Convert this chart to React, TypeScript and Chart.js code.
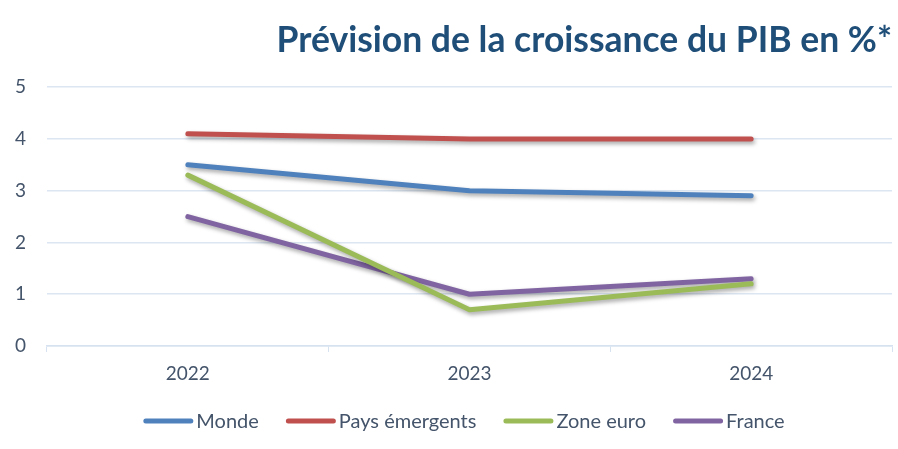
import React, { useEffect, useRef } from "react";
import { Chart, registerables } from "chart.js";

Chart.register(...registerables);

const categories = ["2022", "2023", "2024"];
const monde = [3.5, 3.0, 2.9];
const paysEmergents = [4.1, 4.0, 4.0];
const zoneEuro = [3.3, 0.7, 1.2];
const france = [2.5, 1.0, 1.3];
const seriesNames = ["Monde", "Pays émergents", "Zone euro", "France"];
const seriesColors = ["#4F81BD", "#C0504D", "#9BBB59", "#8064A2"];
const titleText = "Prévision de la croissance du PIB en %*";
const textColor = "#44546A";

const shadowPlugin = {
  id: "lineShadow",
  beforeDatasetDraw(chart: any) {
    const ctx = chart.ctx;
    ctx.save();
    ctx.shadowColor = "rgba(0,0,0,0.35)";
    ctx.shadowBlur = 4;
    ctx.shadowOffsetX = 1.5;
    ctx.shadowOffsetY = 2.5;
  },
  afterDatasetDraw(chart: any) {
    chart.ctx.restore();
  },
};

const legendPlugin = {
  id: "customLegend",
  afterDraw(chart: any) {
    const ctx = chart.ctx;
    const lineLen = 50;
    const gapText = 3;
    const gapItem = 27;
    const y = 421;
    const centerX = 464;
    ctx.save();
    ctx.font = "20px Lato";
    const items = chart.data.datasets.map((d: any) => ({
      label: d.label,
      color: d.borderColor,
      w: lineLen + gapText + ctx.measureText(d.label).width,
    }));
    const total = items.reduce((s: number, it: any) => s + it.w, 0) + gapItem * (items.length - 1);
    let x = centerX - total / 2;
    items.forEach((it: any) => {
      ctx.strokeStyle = it.color;
      ctx.lineWidth = 5;
      ctx.lineCap = "round";
      ctx.beginPath();
      ctx.moveTo(x + 2.5, y);
      ctx.lineTo(x + lineLen - 2.5, y);
      ctx.stroke();
      ctx.fillStyle = textColor;
      ctx.textBaseline = "middle";
      ctx.textAlign = "left";
      ctx.fillText(it.label, x + lineLen + gapText, y + 1);
      x += it.w + gapItem;
    });
    ctx.restore();
  },
};

export default function App() {
  const ref = useRef<HTMLCanvasElement>(null);
  useEffect(() => {
    document.body.style.margin = "0";
    const values = [monde, paysEmergents, zoneEuro, france];
    const chart = new Chart(ref.current as HTMLCanvasElement, {
      type: "line",
      data: {
        labels: categories,
        datasets: values.map((v, i) => ({
          label: seriesNames[i],
          data: v,
          borderColor: seriesColors[i],
          backgroundColor: seriesColors[i],
          borderWidth: 5,
          pointRadius: 0,
          borderCapStyle: "round",
          borderJoinStyle: "round",
          tension: 0,
        })),
      },
      options: {
        animation: false,
        responsive: false,
        maintainAspectRatio: false,
        layout: { padding: { left: 0, right: 6, top: 0, bottom: 63 } },
        plugins: {
          legend: { display: false },
          tooltip: { enabled: false },
          title: {
            display: true,
            text: titleText,
            align: "end",
            color: "#1F4E79",
            font: { family: "Lato", size: 35.5, weight: "bold" },
            padding: { top: 19, bottom: 25.5 },
          },
        },
        scales: {
          x: {
            type: "category",
            offset: true,
            afterFit(scale: any) {
              scale.height = 40;
            },
            grid: {
              display: true,
              drawOnChartArea: false,
              drawTicks: true,
              tickLength: 6,
              color: "#D6E2F0",
              offset: true,
            },
            border: { display: true, color: "#D6E2F0", width: 1.5 },
            ticks: {
              color: textColor,
              font: { family: "Lato", size: 19 },
              padding: 10,
            },
          },
          y: {
            min: 0,
            max: 5,
            afterFit(scale: any) {
              scale.width = 47;
            },
            grid: { color: "#DCE6F2", lineWidth: 1.5, drawTicks: false },
            border: { display: false },
            ticks: {
              stepSize: 1,
              color: textColor,
              font: { family: "Lato", size: 19 },
              padding: 21,
            },
          },
        },
      },
      plugins: [shadowPlugin, legendPlugin],
    } as any);
    return () => chart.destroy();
  }, []);
  return (
    <div style={{ width: 898, height: 449 }}>
      <canvas ref={ref} width={898} height={449} style={{ display: "block" }} />
    </div>
  );
}
